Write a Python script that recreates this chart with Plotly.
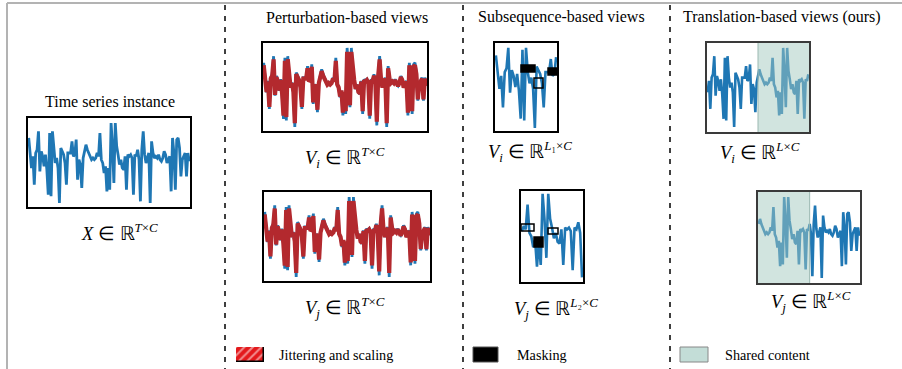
import plotly.graph_objects as go

W, H = 902, 369

# ---- data ----
series = [7.5, 3, -1.5, 2, -6.5, 3, 4, 9.5, -2.5, 3.5,
          2, -1, 2.5, -2, -9.5, 9, -10, 9.5, 3, 0,
          1.5, -1.5, -12, 4.5, 3.5, 2.5, 0, -6.5, 3, 3,
          3, 6.5, 2, 2.5, 7, -5, 1, -0.5, -7.5, 1.5,
          4, 5.5, 4, 3, 2, 1, 1.5, 1, 1.5, 3,
          2, 9, 1, 0, -3, -1, -8.5, -1.5, -8, 12,
          5, -6, 12, 5, 2.5, -0.5, 1, -1.5, -2, 2,
          -8, 2.5, 2, 2.5, 1.5, -9.5, 2.5, 2, 4, 1,
          -11.5, 4, 9.5, 2.5, 0, 2, 3, -12, 6.5, 3,
          1.5, 2, 1.5, 2.5, 1, 0.5, 1.5, 3.5, 2.5, 0,
          1, 2, -8.5, 7.5, 3, -8, 7, 7.5, 4.5, -4,
          1, 2, 3, -4, 3, 0.5]
jitter_scale_i = 0.9
jitter_scale_j = 0.9
sub_i_range = (0, 34)
sub_j_range = (48, 80)
trans_i_range = (2, 78)
trans_j_range = (40, 115)
shared_range = (40, 78)

titles = ["Time series instance", "Perturbation-based views",
          "Subsequence-based views", "Translation-based views (ours)"]
legend_labels = ["Jittering and scaling", "Masking", "Shared content"]

BLUE = "#1f77b4"
RED = "#b3292e"
SERIF = "Liberation Serif"


def px(x):
    return x / W


def py(y):
    return 1 - y / H


fig = go.Figure()


def panel(n, x0, x1, y0, y1, idx, yr, linecolor="black"):
    xa = "xaxis" if n == 1 else f"xaxis{n}"
    ya = "yaxis" if n == 1 else f"yaxis{n}"
    common = dict(showgrid=False, zeroline=False, showticklabels=False, ticks="",
                  showline=True, mirror=True, linecolor=linecolor, linewidth=1.6,
                  fixedrange=True)
    fig.layout[xa] = dict(domain=[px(x0), px(x1)], anchor=f"y{n}" if n > 1 else "y",
                          range=[idx[0] - 0.5, idx[-1] + 0.5], **common)
    fig.layout[ya] = dict(domain=[py(y1), py(y0)], anchor=f"x{n}" if n > 1 else "x",
                          range=yr, **common)


def add_line(n, idx, vals, color, width):
    fig.add_trace(go.Scatter(x=idx, y=vals, mode="lines",
                             line=dict(color=color, width=width),
                             xaxis="x" if n == 1 else f"x{n}",
                             yaxis="y" if n == 1 else f"y{n}",
                             showlegend=False, hoverinfo="skip"))


all_idx = list(range(len(series)))

# 1 main
panel(1, 28, 190, 118, 207, all_idx, [-13.2, 13.5])
add_line(1, all_idx, series, BLUE, 2.8)

# 2,3 perturbation
panel(2, 263, 427, 43, 131, all_idx, [-13.2, 13.5])
add_line(2, all_idx, series, BLUE, 2.8)
add_line(2, all_idx, [v * jitter_scale_i for v in series], RED, 4.2)
panel(3, 264, 430, 192, 281, all_idx, [-13.2, 13.5])
add_line(3, all_idx, series, BLUE, 2.8)
add_line(3, all_idx, [v * jitter_scale_j for v in series], RED, 4.2)

# 4,5 subsequence
si = list(range(sub_i_range[0], sub_i_range[1] + 1))
panel(4, 495, 557, 43, 131, si, [-12.8, 10.8])
add_line(4, si, [series[i] for i in si], BLUE, 2.6)
sj = list(range(sub_j_range[0], sub_j_range[1] + 1))
panel(5, 521, 583, 191, 282, sj, [-12.8, 12.8])
add_line(5, sj, [series[i] for i in sj], BLUE, 2.6)

# 6,7 translation
ti = list(range(trans_i_range[0], trans_i_range[1] + 1))
panel(6, 707, 809, 43, 132, ti, [-13.5, 13.5], linecolor="#3a3a3a")
add_line(6, ti, [series[i] for i in ti], BLUE, 2.6)
tj = list(range(trans_j_range[0], trans_j_range[1] + 1))
panel(7, 758, 860, 192, 283, tj, [-13.5, 13.5], linecolor="#3a3a3a")
add_line(7, tj, [series[i] for i in tj], BLUE, 2.6)

# 8 legend swatch for jittering (patterned bar)
fig.layout["xaxis8"] = dict(domain=[px(236), px(264)], anchor="y8", range=[-0.5, 0.5],
                            visible=False, fixedrange=True)
fig.layout["yaxis8"] = dict(domain=[py(362), py(347)], anchor="x8", range=[0, 1],
                            visible=False, fixedrange=True)
fig.add_trace(go.Bar(x=[0], y=[1], width=[1], xaxis="x8", yaxis="y8",
                     marker=dict(color="#e3191c", line=dict(color="black", width=1.5),
                                 pattern=dict(shape="/", fgcolor="white", fillmode="overlay",
                                              size=6, solidity=0.35)),
                     showlegend=False, hoverinfo="skip"))

shapes = []
# shared content shading
shade = dict(type="rect", fillcolor="#a3c9c0", opacity=0.5, line=dict(width=0), layer="above")
shapes.append(dict(shade, xref="x6", yref="y6 domain", x0=shared_range[0],
                   x1=trans_i_range[1] + 0.5, y0=0, y1=1))
shapes.append(dict(shade, xref="x7", yref="y7 domain", x0=trans_j_range[0] - 0.5,
                   x1=shared_range[1], y0=0, y1=1))
shapes.append(dict(type="line", xref="x6", yref="y6 domain", x0=shared_range[0],
                   x1=shared_range[0], y0=0, y1=1, line=dict(color="#9bb8b1", width=1)))
shapes.append(dict(type="line", xref="x7", yref="y7 domain", x0=shared_range[1],
                   x1=shared_range[1], y0=0, y1=1, line=dict(color="#9bb8b1", width=1)))


def prect(x0, x1, y0, y1, fill, lw=1.5, lc="black"):
    shapes.append(dict(type="rect", xref="paper", yref="paper",
                       x0=px(x0), x1=px(x1), y0=py(y1), y1=py(y0),
                       fillcolor=fill, line=dict(color=lc, width=lw), layer="above"))


# masks
prect(521, 535, 65, 72, "black")
prect(548, 558, 68, 75, "black")
prect(534, 543, 78, 88, "rgba(0,0,0,0)")
prect(521, 534, 224, 231, "rgba(0,0,0,0)")
prect(534, 543, 237, 247, "black")
prect(548, 558, 228, 234, "rgba(0,0,0,0)")

# legend swatches
prect(473, 498, 347, 362, "black", lw=1, lc="#555")
prect(680, 708, 347, 362, "#c3ddd7", lw=1, lc="#888")

# dashed separators
for xs in [225, 463, 670]:
    shapes.append(dict(type="line", xref="paper", yref="paper", x0=px(xs), x1=px(xs),
                       y0=py(5), y1=py(369), line=dict(color="black", width=1.5, dash="5px,6px")))

# gray outer frame
shapes.append(dict(type="line", xref="paper", yref="paper", x0=px(7), x1=1, y0=py(3), y1=py(3),
                   line=dict(color="#b3b3b3", width=2)))
shapes.append(dict(type="line", xref="paper", yref="paper", x0=px(7), x1=px(7), y0=py(3), y1=0,
                   line=dict(color="#b3b3b3", width=2)))

anns = []


def text(x, y, s, size, xanchor="center"):
    anns.append(dict(xref="paper", yref="paper", x=px(x), y=py(y), text=s, showarrow=False,
                     xanchor=xanchor, yanchor="middle",
                     font=dict(family=SERIF, size=size, color="black")))


TS = 16
text(110, 101, titles[0], TS)
text(347, 17, titles[1], TS)
text(561, 17, titles[2], TS)
text(782, 17, titles[3], TS)

MS = 18.5
text(119, 232, "<i>X</i> ∈ ℝ<sup><i>T</i>×<i>C</i></sup>", MS)
text(345, 157, "<i>V<sub>i</sub></i> ∈ ℝ<sup><i>T</i>×<i>C</i></sup>", MS)
text(345, 307, "<i>V<sub>j</sub></i> ∈ ℝ<sup><i>T</i>×<i>C</i></sup>", MS)
text(530, 151, "<i>V<sub>i</sub></i> ∈ ℝ<sup><i>L</i>₁×<i>C</i></sup>", MS)
text(556, 308, "<i>V<sub>j</sub></i> ∈ ℝ<sup><i>L</i>₂×<i>C</i></sup>", MS)
text(760, 152, "<i>V<sub>i</sub></i> ∈ ℝ<sup><i>L</i>×<i>C</i></sup>", MS)
text(811, 301, "<i>V<sub>j</sub></i> ∈ ℝ<sup><i>L</i>×<i>C</i></sup>", MS)

LS = 14.2
text(277, 355, legend_labels[0], LS, "left")
text(515, 355, legend_labels[1], LS, "left")
text(723, 355, legend_labels[2], LS, "left")

fig.update_layout(width=W, height=H, margin=dict(l=0, r=0, t=0, b=0),
                  paper_bgcolor="white", plot_bgcolor="rgba(0,0,0,0)",
                  shapes=shapes, annotations=anns, bargap=0, showlegend=False)

fig.write_html("out.html", config={"displayModeBar": False},
               post_script="document.body.style.margin='0';document.body.style.overflow='hidden';")
